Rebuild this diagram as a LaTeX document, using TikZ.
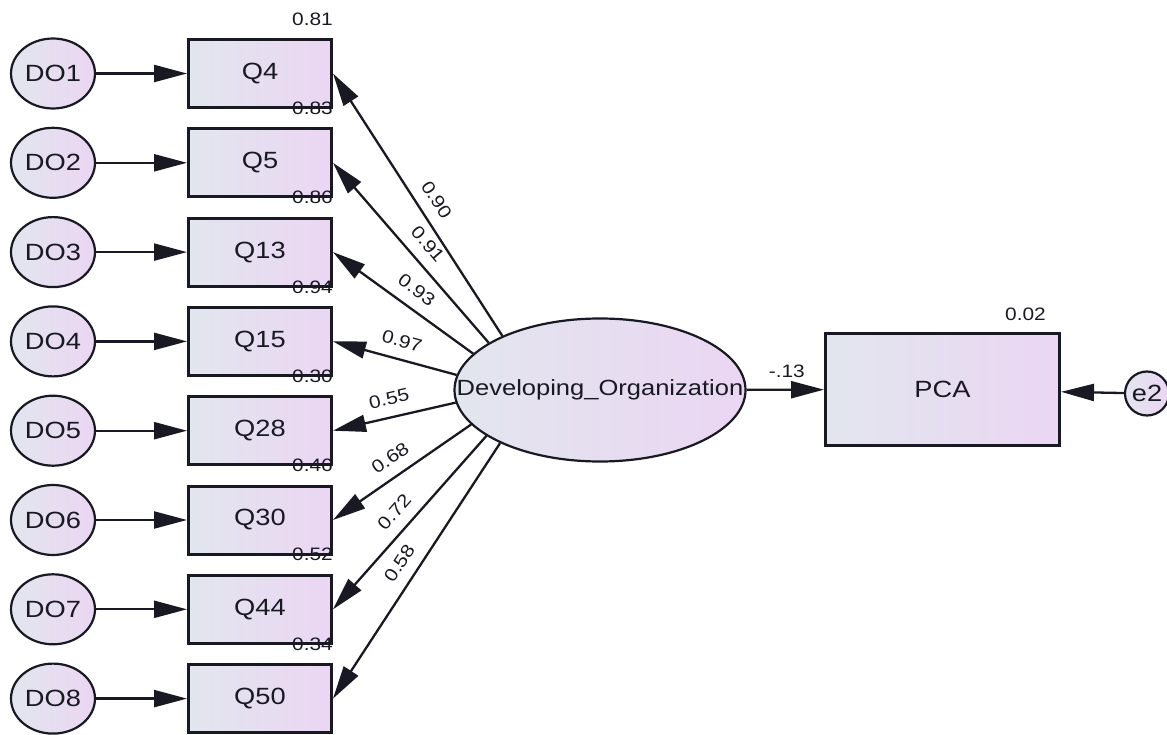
\documentclass[tikz,border=0pt]{standalone}
\usepackage{fontspec}
\newfontfamily\amosfont{Liberation Sans}[FakeStretch=1.16]
\usetikzlibrary{arrows.meta,shapes.geometric}

\definecolor{fillA}{RGB}{226,230,238}
\definecolor{fillB}{RGB}{235,214,243}
\definecolor{ink}{RGB}{25,25,35}

\tikzset{
  every node/.style={font=\amosfont\fontsize{23.5}{26}\selectfont, text=ink},
  obsbox/.style={rectangle, draw=ink, line width=3pt, inner sep=0pt,
    minimum width=143pt, minimum height=68pt,
    left color=fillA, right color=fillB},
  errlat/.style={ellipse, draw=ink, line width=2.2pt, inner sep=0pt,
    minimum width=84pt, minimum height=70pt,
    left color=fillA, right color=fillB},
  errcirc/.style={circle, draw=ink, line width=2.2pt, inner sep=0pt,
    minimum size=44pt, left color=fillA, right color=fillB},
  factor/.style={ellipse, draw=ink, line width=2.2pt, inner sep=0pt,
    minimum width=291pt, minimum height=143pt,
    left color=fillA, right color=fillB},
  factorlab/.style={font=\amosfont\fontsize{22}{26}\selectfont, inner sep=0pt},
  numlab/.style={font=\amosfont\fontsize{18}{20}\selectfont, inner sep=0pt},
  loadlab/.style={numlab, sloped, above=11pt},
  regpath/.style={draw=ink, line width=2.3pt, -{Triangle[length=33pt,width=17pt]}}
}

\begin{document}
\begin{tikzpicture}[x=1pt,y=-1pt]
\useasboundingbox (0,0) rectangle (1167,735);

% latent factor
\node[factor, label={[factorlab]center:Developing\_Organization}] (dev) at (600,390) {};

% indicators, their error terms and loadings
\foreach \q/\d/\v/\l/\a/\p [count=\i from 0] in {
    4/1/0.81/0.90/151/0.48,
    5/2/0.83/0.91/157.5/0.48,
    13/3/0.86/0.93/164.5/0.48,
    15/4/0.94/0.97/174.5/0.48,
    28/5/0.30/0.55/185.5/0.51,
    30/6/0.46/0.68/195/0.51,
    44/7/0.52/0.72/202.5/0.51,
    50/8/0.34/0.58/208.5/0.51}{
  \pgfmathsetmacro\yy{73.5+89.3*\i}
  \node[obsbox] (Q\q) at (260,\yy) {Q\q};
  \node[errlat] (DO\d) at (53,\yy) {DO\d};
  \draw[regpath] (DO\d) -- (Q\q);
  \node[numlab, anchor=east] (var\q) at (333,\yy-54.5) {\v};
  \draw[regpath] (dev.\a) -- node[loadlab, pos=\p] (ld\q) {\l} (Q\q.east);
}

% outcome
\node[obsbox, minimum width=234pt, minimum height=112pt] (PCA) at (942.5,389.5) {PCA};
\node[numlab, anchor=east] (varPCA) at (1046,314) {0.02};
\node[errcirc] (e2) at (1147,393.5) {e2};

\draw[regpath] (dev) -- node[numlab, pos=0.52, above=11pt] (bPCA) {-.13} (PCA);
\draw[regpath] (e2) -- (PCA);
\end{tikzpicture}
\end{document}
